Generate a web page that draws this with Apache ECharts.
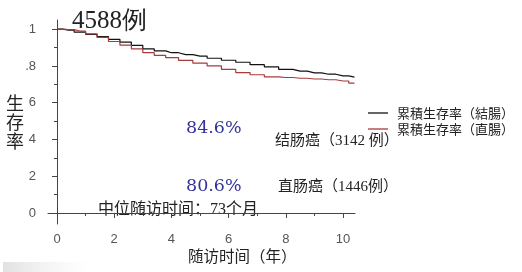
<!DOCTYPE html>
<html><head><meta charset="utf-8">
<script src="https://cdn.jsdelivr.net/npm/echarts@6/dist/echarts.min.js"></script>
<style>html,body{margin:0;padding:0;background:#fff}#c{width:522px;height:272px}</style>
</head><body><div id="c"></div>
<script>
var times = [0, 0.4, 0.8, 1.2, 1.6, 2.0, 2.4, 2.8, 3.2, 3.6, 4.0, 4.5, 5.0, 5.5, 6.0, 6.5, 7.0, 7.5, 8.0, 8.5, 9.0, 9.5, 10.0, 10.4];
var colonSurv = [1.0, 0.995, 0.984, 0.972, 0.96, 0.945, 0.93, 0.912, 0.893, 0.882, 0.872, 0.862, 0.853, 0.842, 0.831, 0.82, 0.807, 0.795, 0.781, 0.772, 0.762, 0.755, 0.746, 0.739];
var rectumSurv = [1.0, 0.998, 0.99, 0.975, 0.955, 0.933, 0.913, 0.893, 0.872, 0.858, 0.845, 0.83, 0.815, 0.8, 0.781, 0.764, 0.752, 0.741, 0.737, 0.733, 0.729, 0.725, 0.718, 0.707];
var seriesNames = ['累積生存率（結腸）', '累積生存率（直腸）'];
var xTicks = [0, 2, 4, 6, 8, 10];
var xMinorTicks = [0, 1, 2, 3, 4, 5, 6, 7, 8, 9, 10];
var yTicks = [0, 0.2, 0.4, 0.6, 0.8, 1.0];
var yTickLabels = ['0', '2', '4', '6', '.8', '1'];
var yMinorTicks = [0, 0.1, 0.2, 0.3, 0.4, 0.5, 0.6, 0.7, 0.8, 0.9, 1.0];

var chart = echarts.init(document.getElementById('c'));
function pairs(t, v) { return t.map(function (x, i) { return [x, v[i]]; }); }
var axisCol = '#444';
var xBase = { type: 'value', min: -0.315, max: 10.42, splitLine: { show: false } };
var yBase = { type: 'value', min: -0.06, max: 1.05, splitLine: { show: false } };
chart.setOption({
  animation: false,
  grid: { left: 48, top: 20, width: 307, height: 204, containLabel: false },
  xAxis: [
    Object.assign({}, xBase, {
      axisLine: { lineStyle: { color: axisCol, width: 1 } },
      axisTick: { customValues: xTicks, length: 5, inside: false, lineStyle: { color: axisCol } },
      axisLabel: { customValues: xTicks, margin: 9, color: '#555', fontSize: 13, fontFamily: 'Liberation Sans' }
    }),
    Object.assign({}, xBase, {
      gridIndex: 0, position: 'bottom',
      axisLine: { show: false },
      axisTick: { customValues: xMinorTicks, length: 3, lineStyle: { color: axisCol } },
      axisLabel: { show: false }
    })
  ],
  yAxis: [
    Object.assign({}, yBase, {
      axisLine: { show: true, lineStyle: { color: axisCol, width: 1 } },
      axisTick: { show: true, customValues: yTicks, length: 5, lineStyle: { color: axisCol } },
      axisLabel: { customValues: yTicks, margin: 12, color: '#555', fontSize: 13, fontFamily: 'Liberation Sans',
        formatter: function (v) { var i = yTicks.findIndex(function (t) { return Math.abs(t - v) < 1e-6; }); return i >= 0 ? yTickLabels[i] : ''; } }
    }),
    Object.assign({}, yBase, {
      position: 'left',
      axisLine: { show: false },
      axisTick: { show: true, customValues: yMinorTicks, length: 3, lineStyle: { color: axisCol } },
      axisLabel: { show: false }
    })
  ],
  legend: {
    orient: 'vertical', left: 363, top: 101, itemGap: 2, itemWidth: 20, itemHeight: 1.3, icon: 'rect',
    textStyle: { fontSize: 13, color: '#222', fontFamily: 'Noto Sans CJK JP', padding: [0, 0, 0, 4], lineHeight: 14, height: 14 },
    data: seriesNames
  },
  series: [
    { name: seriesNames[0], type: 'line', step: 'middle', symbol: 'none', data: pairs(times, colonSurv),
      lineStyle: { color: '#111', width: 1.2 }, itemStyle: { color: '#111' } },
    { name: seriesNames[1], type: 'line', step: 'middle', symbol: 'none', data: pairs(times, rectumSurv),
      lineStyle: { color: '#a83a3a', width: 1.2 }, itemStyle: { color: '#a83a3a' } }
  ],
  graphic: [
    { type: 'rect', left: 3, top: 262, shape: { width: 90, height: 10 },
      style: { fill: new echarts.graphic.LinearGradient(0, 0, 1, 0, [{ offset: 0, color: 'rgba(205,205,205,0.6)' }, { offset: 1, color: 'rgba(235,235,235,0)' }]) } },
    { type: 'text', left: 72, top: 9, style: { text: '4588例', fontSize: 25, fill: '#222', fontFamily: 'Liberation Serif' } },
    { type: 'text', left: 6, top: 94, style: { text: '生\n存\n率', fontSize: 18, lineHeight: 19, fill: '#222', fontFamily: 'Noto Sans CJK SC' } },
    { type: 'text', left: 186, top: 119, style: { text: '84.6%', fontSize: 17.5, fill: '#33339a', fontFamily: 'DejaVu Serif' } },
    { type: 'text', left: 186, top: 177, style: { text: '80.6%', fontSize: 17.5, fill: '#33339a', fontFamily: 'DejaVu Serif' } },
    { type: 'text', left: 275, top: 134, style: { text: '结肠癌（3142 例）', fontSize: 15, fill: '#222', fontFamily: 'Liberation Serif, Noto Sans CJK SC' } },
    { type: 'text', left: 278, top: 180, style: { text: '直肠癌（1446例）', fontSize: 15, fill: '#222', fontFamily: 'Liberation Serif, Noto Sans CJK SC' } },
    { type: 'text', left: 98, top: 202, style: { text: '中位随访时间：73个月', fontSize: 16, fill: '#222', fontFamily: 'Liberation Serif, Noto Sans CJK SC' } },
    { type: 'text', left: 188, top: 248, style: { text: '随访时间（年）', fontSize: 15.5, fill: '#222', fontFamily: 'Noto Sans CJK SC' } }
  ]
});
</script></body></html>
